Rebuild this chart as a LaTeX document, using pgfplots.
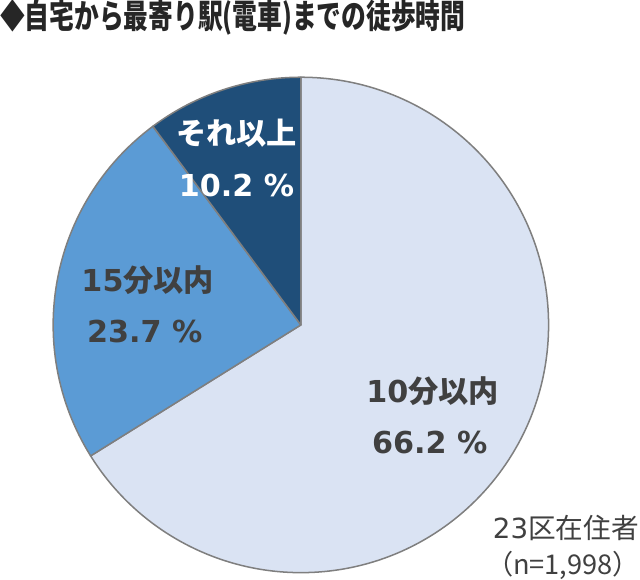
\documentclass[border=0pt]{standalone}
\usepackage{fontspec}
\usepackage{pgfplots}
\pgfplotsset{compat=1.18}
\setmainfont{DejaVu Sans}
\newfontfamily\cjk{Noto Sans CJK JP}
\newfontfamily\cjkt{Noto Sans CJK JP}[FakeStretch=0.745]

\definecolor{sliceA}{HTML}{DAE3F3}
\definecolor{sliceB}{HTML}{5B9BD5}
\definecolor{sliceC}{HTML}{1F4E79}
\definecolor{edge}{HTML}{7F7F7F}
\definecolor{txt}{HTML}{404040}

% share of each answer (%)
\def\va{66.2}  % 10分以内
\def\vb{23.7}  % 15分以内
\def\vc{10.2}  % それ以上
\pgfmathsetmacro\tot{\va+\vb+\vc}
\pgfmathsetmacro\angA{90-360*(\va/\tot)}
\pgfmathsetmacro\angB{\angA-360*(\vb/\tot)}

\begin{document}
\begin{tikzpicture}
\begin{axis}[
    scale only axis,
    width=640pt, height=576pt,
    xmin=0, xmax=640, ymin=0, ymax=576,
    hide axis,
    clip=false,
]
\def\R{246pt}
\filldraw[fill=sliceA, draw=edge, line width=1.5pt, line join=round]
    (axis cs:301,254) -- ++(90:\R) arc[start angle=90, end angle=\angA, radius=\R] -- cycle;
\filldraw[fill=sliceB, draw=edge, line width=1.5pt, line join=round]
    (axis cs:301,254) -- ++(\angA:\R) arc[start angle=\angA, end angle=\angB, radius=\R] -- cycle;
\filldraw[fill=sliceC, draw=edge, line width=1.5pt, line join=round]
    (axis cs:301,254) -- ++(\angB:\R) arc[start angle=\angB, end angle=-270, radius=\R] -- cycle;

% title
\node[anchor=west, font=\cjkt\bfseries\fontsize{33}{36}\selectfont, text=black!85, inner sep=0pt]
    at (axis cs:2,559) {◆自宅から最寄り駅(電車)までの徒歩時間};

% slice labels
\tikzset{lbl/.style={font=\bfseries\fontsize{30}{34}\selectfont, inner sep=0pt}}
\node[lbl, text=white] at (axis cs:237,444) {\cjk\bfseries それ以上};
\node[lbl, text=white] at (axis cs:237,392) {\vc\ \%};
\node[lbl, text=txt] at (axis cs:149,298) {15{\cjk\bfseries 分以内}};
\node[lbl, text=txt] at (axis cs:146,247) {\vb\ \%};
\node[lbl, text=txt] at (axis cs:432,188) {10{\cjk\bfseries 分以内}};
\node[lbl, text=txt] at (axis cs:429,137) {\va\ \%};

% sample note
\node[anchor=east, font=\fontsize{27.5}{30}\selectfont, text=txt, inner sep=0pt] at (axis cs:637,52) {23{\cjk 区在住者}};
\node[anchor=east, font=\cjk\fontsize{27}{30}\selectfont, text=txt, inner sep=0pt] at (axis cs:638,15) {（n=1,998）};
\end{axis}
\end{tikzpicture}
\end{document}
